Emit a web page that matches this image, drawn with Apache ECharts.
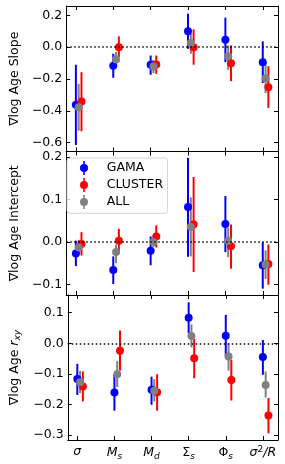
<!DOCTYPE html>
<html><head><meta charset="utf-8">
<script src="https://cdn.jsdelivr.net/npm/echarts@6/dist/echarts.min.js"></script>
<style>html,body{margin:0;padding:0;background:#fff}#c{width:285px;height:464px}</style>
</head><body><div id="c"></div>
<script>
// ---------------- data ----------------
const categories = ['σ', 'Ms', 'Md', 'Σs', 'Φs', 'σ²/R'];
const groupNames = ['GAMA', 'CLUSTER', 'ALL'];

const slopeTicks = [-0.6, -0.4, -0.2, 0.0, 0.2];
const interceptTicks = [-0.1, 0.0, 0.1, 0.2];
const rxyTicks = [-0.3, -0.2, -0.1, 0.0, 0.1];

// Slope panel
const slopeGama      = [-0.362, -0.117, -0.110, 0.100, 0.047, -0.094];
const slopeGamaLo    = [-0.614, -0.192, -0.173, -0.010, -0.094, -0.224];
const slopeGamaHi    = [-0.110, -0.041, -0.052, 0.211, 0.186, 0.037];
const slopeCluster   = [-0.341, 0.000, -0.108, 0.000, -0.100, -0.251];
const slopeClusterLo = [-0.528, -0.062, -0.167, -0.110, -0.213, -0.381];
const slopeClusterHi = [-0.157, 0.068, -0.052, 0.112, 0.011, -0.119];
const slopeAll       = [-0.377, -0.077, -0.121, 0.026, -0.056, -0.195];
const slopeAllLo     = [-0.524, -0.125, -0.163, -0.041, -0.142, -0.289];
const slopeAllHi     = [-0.230, -0.030, -0.079, 0.085, 0.011, -0.100];

// Intercept panel
const interGama      = [-0.027, -0.066, -0.021, 0.082, 0.042, -0.055];
const interGamaLo    = [-0.057, -0.099, -0.055, -0.035, -0.024, -0.110];
const interGamaHi    = [0.003, -0.034, 0.013, 0.198, 0.108, -0.001];
const interCluster   = [-0.005, 0.003, 0.013, 0.041, -0.010, -0.052];
const interClusterLo = [-0.032, -0.024, -0.013, -0.071, -0.063, -0.101];
const interClusterHi = [0.023, 0.031, 0.039, 0.153, 0.041, -0.006];
const interAll       = [-0.013, -0.024, 0.000, 0.035, 0.003, -0.053];
const interAllLo     = [-0.030, -0.050, -0.012, -0.034, -0.036, -0.087];
const interAllHi     = [0.005, -0.006, 0.009, 0.105, 0.033, -0.020];

// r_xy panel
const rxyGama      = [-0.117, -0.161, -0.152, 0.084, 0.025, -0.045];
const rxyGamaLo    = [-0.169, -0.220, -0.201, 0.033, -0.041, -0.103];
const rxyGamaHi    = [-0.067, -0.103, -0.109, 0.134, 0.093, 0.011];
const rxyCluster   = [-0.141, -0.024, -0.160, -0.049, -0.120, -0.236];
const rxyClusterLo = [-0.190, -0.089, -0.220, -0.114, -0.187, -0.294];
const rxyClusterHi = [-0.092, 0.042, -0.101, 0.014, -0.054, -0.179];
const rxyAll       = [-0.127, -0.101, -0.155, 0.024, -0.043, -0.136];
const rxyAllLo     = [-0.163, -0.143, -0.190, -0.013, -0.089, -0.177];
const rxyAllHi     = [-0.090, -0.058, -0.117, 0.062, 0.000, -0.092];

// ---------------- chart ----------------
const FONT = 'DejaVu Sans';
const FS = 12.5;
const colors = {GAMA: '#0000ff', CLUSTER: '#ff0000', ALL: '#808080'};
const dodge = {GAMA: 0, CLUSTER: 0.15, ALL: 0.075};
const catRich = ['{it|σ}', '{it|M}{sub|s}', '{it|M}{sub|d}', '{rm|Σ}{sub|s}', '{rm|Φ}{sub|s}', '{it|σ}{sup|2}{it|/R}'];
const catIdx = categories.map((c, i) => i);

const panels = [
  {name: '∇log Age Slope', ticks: slopeTicks, min: -0.655, max: 0.259, top: 6, height: 145.5,
   g: {GAMA: [slopeGama, slopeGamaLo, slopeGamaHi], CLUSTER: [slopeCluster, slopeClusterLo, slopeClusterHi], ALL: [slopeAll, slopeAllLo, slopeAllHi]}},
  {name: '∇log Age Intercept', ticks: interceptTicks, min: -0.125, max: 0.213, top: 151.5, height: 143.5,
   g: {GAMA: [interGama, interGamaLo, interGamaHi], CLUSTER: [interCluster, interClusterLo, interClusterHi], ALL: [interAll, interAllLo, interAllHi]}},
  {name: '∇log Age {it|r}{sub|xy}', ticks: rxyTicks, min: -0.316, max: 0.158, top: 295, height: 145,
   g: {GAMA: [rxyGama, rxyGamaLo, rxyGamaHi], CLUSTER: [rxyCluster, rxyClusterLo, rxyClusterHi], ALL: [rxyAll, rxyAllLo, rxyAllHi]}}
];

const XMIN = -0.2575, XMAX = 5.4075;
const grids = [], xAxes = [], yAxes = [], series = [];
const lineStyle = {color: '#000', width: 1};
const fmtY = v => (Math.abs(v) < 1e-9 ? 0 : v).toFixed(1).replace('-', '\u2212');

panels.forEach((p, k) => {
  grids.push({left: 59.5, right: 7, top: p.top, height: p.height, containLabel: false});
  const last = k === panels.length - 1;
  xAxes.push({
    type: 'value', gridIndex: k, position: 'bottom', min: XMIN, max: XMAX,
    axisLine: {show: true, onZero: false, lineStyle}, splitLine: {show: false},
    axisTick: {show: true, inside: true, length: 4, lineStyle, customValues: catIdx},
    axisLabel: {show: last, customValues: catIdx, margin: 5, color: '#000',
      fontFamily: FONT, fontSize: FS,
      formatter: v => catRich[Math.round(v)],
      rich: {
        it: {fontStyle: 'italic', fontSize: FS, fontFamily: FONT, color: '#000'},
        rm: {fontSize: FS, fontFamily: FONT, color: '#000'},
        sub: {fontStyle: 'italic', fontSize: 9, fontFamily: FONT, color: '#000', padding: [7, 0, 0, 0]},
        sup: {fontSize: 9, fontFamily: FONT, color: '#000', padding: [0, 0, 7, 0]}
      }}
  });
  xAxes.push({
    type: 'value', gridIndex: k, position: 'top', min: XMIN, max: XMAX,
    axisLine: {show: true, onZero: false, lineStyle}, splitLine: {show: false},
    axisTick: {show: true, inside: true, length: 4, lineStyle, customValues: catIdx},
    axisLabel: {show: false}
  });
  yAxes.push({
    type: 'value', gridIndex: k, position: 'left', min: p.min, max: p.max,
    name: p.name, nameLocation: 'middle', nameGap: 37, nameRotate: 90,
    nameTextStyle: {fontFamily: FONT, fontSize: FS, color: '#000',
      rich: {it: {fontStyle: 'italic', fontSize: FS, fontFamily: FONT, color: '#000'},
             sub: {fontStyle: 'italic', fontSize: 9, fontFamily: FONT, color: '#000', padding: [7, 0, 0, 0]}}},
    axisLine: {show: true, onZero: false, lineStyle}, splitLine: {show: false},
    axisTick: {show: true, inside: true, length: 4, lineStyle, customValues: p.ticks},
    axisLabel: {show: true, customValues: p.ticks, margin: 4, color: '#000', fontFamily: FONT, fontSize: FS, formatter: fmtY}
  });
  yAxes.push({
    type: 'value', gridIndex: k, position: 'right', min: p.min, max: p.max,
    axisLine: {show: true, onZero: false, lineStyle}, splitLine: {show: false},
    axisTick: {show: true, inside: true, length: 4, lineStyle, customValues: p.ticks},
    axisLabel: {show: false}
  });

  groupNames.forEach((gn, gi) => {
    const [vals, lo, hi] = p.g[gn];
    const col = colors[gn];
    const barSeries = {
      type: 'custom', name: gn, xAxisIndex: 2 * k, yAxisIndex: 2 * k,
      itemStyle: {color: col}, silent: true, clip: false,
      encode: {x: 0, y: [1, 2]},
      data: vals.map((v, i) => [i + dodge[gn], lo[i], hi[i]]),
      renderItem: (params, api) => {
        const a = api.coord([api.value(0), api.value(1)]);
        const b = api.coord([api.value(0), api.value(2)]);
        return {type: 'line', shape: {x1: a[0], y1: a[1], x2: b[0], y2: b[1]},
                style: {stroke: col, lineWidth: 2}};
      }
    };
    if (gi === 0) {
      barSeries.markLine = {
        silent: true, symbol: ['none', 'none'], label: {show: false},
        lineStyle: {color: '#000', type: [1.5, 2.5], width: 1.5},
        data: [{yAxis: 0}]
      };
    }
    series.push(barSeries);
    series.push({
      type: 'scatter', name: gn, xAxisIndex: 2 * k, yAxisIndex: 2 * k,
      symbol: 'circle', symbolSize: 8, itemStyle: {color: col, opacity: 1}, silent: true,
      data: vals.map((v, i) => [i + dodge[gn], v])
    });
  });
});

const icon = 'path://M3.2,0 L4.8,0 L4.8,14 L3.2,14 Z M4,3 A4,4 0 1,1 4,11 A4,4 0 1,1 4,3 Z';
const option = {
  animation: false,
  backgroundColor: '#fff',
  textStyle: {fontFamily: FONT},
  grid: grids, xAxis: xAxes, yAxis: yAxes, series,
  legend: {
    orient: 'vertical', left: 67, top: 158, selectedMode: false,
    padding: [3, 4.5, 4.3, 13], itemGap: 3, itemWidth: 8, itemHeight: 14,
    backgroundColor: 'rgba(255,255,255,0.8)', borderColor: '#d4d4d4', borderWidth: 1, borderRadius: 3,
    data: groupNames.map(n => ({name: n, icon})),
    formatter: n => '{gap|}' + n,
    textStyle: {fontFamily: FONT, fontSize: FS, color: '#000', rich: {gap: {width: 13.7}}}
  }
};
const chart = echarts.init(document.getElementById('c'), null, {renderer: 'canvas'});
chart.setOption(option);
</script></body></html>
